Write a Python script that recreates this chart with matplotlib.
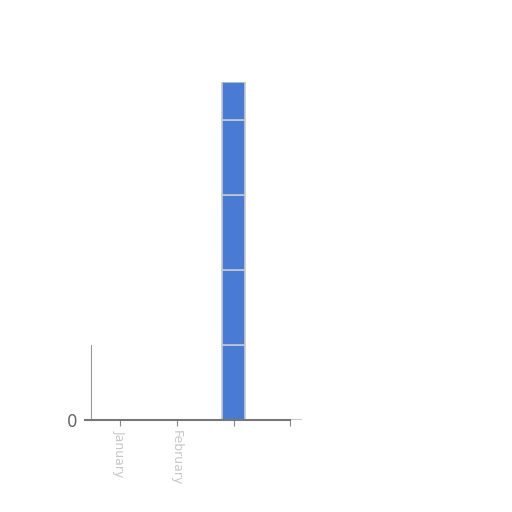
import numpy as np
import matplotlib.pyplot as plt

# categories and stacked segment values (one row per series)
categories = ["January", "February", "", ""]
series_a = [0, 0, 2, 0]
series_b = [0, 0, 2, 0]
series_c = [0, 0, 2, 0]
series_d = [0, 0, 2, 0]
series_e = [0, 0, 1, 0]

stack = [series_a, series_b, series_c, series_d, series_e]

fig = plt.figure(figsize=(5.12, 5.12), dpi=100)
ax = fig.add_axes([0.178, 0.18, 0.445, 0.659])

x = np.arange(len(categories))
bottom = np.zeros(len(categories))
for vals in stack:
    ax.bar(x, vals, width=0.4, bottom=bottom, color="#4a7bd4",
           edgecolor="#c4c8d0", linewidth=1.2)
    bottom += np.array(vals)

ax.set_xlim(-0.5, 3.5)
ax.set_ylim(0, 9)
ax.set_yticks([0])
ax.set_yticklabels(["0"], fontsize=12, color="#666666")
ax.set_xticks(x)
ax.set_xticklabels(categories, rotation=-90, fontsize=9, color="#c8c8c8")
ax.tick_params(axis="x", length=4, color="#888888")
ax.tick_params(axis="y", length=0, pad=10)

for side in ["top", "right"]:
    ax.spines[side].set_visible(False)
ax.spines["left"].set_bounds(0, 2)
ax.spines["left"].set_color("#999999")
ax.spines["bottom"].set_bounds(-0.6, 3.0)
ax.spines["bottom"].set_color("#777777")
ax.spines["bottom"].set_linewidth(1.5)

fig.savefig("out.png", dpi=100)
